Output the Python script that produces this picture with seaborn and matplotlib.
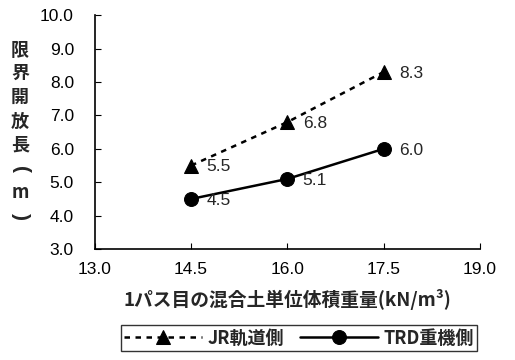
import matplotlib
matplotlib.use("Agg")
import matplotlib.pyplot as plt
import seaborn as sb
import pandas as pd

weights = [14.5, 16.0, 17.5]
jr_side = [5.5, 6.8, 8.3]
trd_side = [4.5, 5.1, 6.0]
series_names = ["JR軌道側", "TRD重機側"]
x_ticks = [13.0, 14.5, 16.0, 17.5, 19.0]
y_ticks = [3.0, 4.0, 5.0, 6.0, 7.0, 8.0, 9.0, 10.0]
y_title = "限界開放長(m)"

df = pd.DataFrame({
	"x": weights * 2,
	"y": jr_side + trd_side,
	"series": [series_names[0]] * 3 + [series_names[1]] * 3,
})

sb.set_style("ticks")
plt.rcParams["font.family"] = ["Liberation Sans", "Noto Sans CJK JP", "DejaVu Sans"]
jp = ["Noto Sans CJK JP", "DejaVu Sans"]

fig = plt.figure(figsize=(5.15, 3.6), dpi=100)
ax = fig.add_axes([0.184, 0.308, 0.748, 0.65])

sb.lineplot(data=df, x="x", y="y", style="series", markers={series_names[0]: "^", series_names[1]: "o"},
	dashes={series_names[0]: (2.2, 2.2), series_names[1]: ""}, color="black", markersize=10,
	markeredgecolor="black", linewidth=1.8, ax=ax, legend=True)

# value labels
for vals in [jr_side, trd_side]:
	for xv, yv in zip(weights, vals):
		ax.annotate(f"{yv:.1f}", (xv, yv), xytext=(11, -1), textcoords="offset points",
			ha="left", va="center", fontsize=12.5)

ax.set_xlim(13.0, 19.0)
ax.set_ylim(3.0, 10.0)
ax.set_xticks(x_ticks)
ax.set_yticks(y_ticks)
ax.set_xticklabels([f"{v:.1f}" for v in x_ticks], fontsize=12.5)
ax.set_yticklabels([f"{v:.1f}" for v in y_ticks], fontsize=12.5)
ax.tick_params(axis="y", direction="in", length=4, width=0.8, colors="black", pad=15)
ax.tick_params(axis="x", direction="in", length=4, width=0.8, colors="black", pad=9)
for s in ["top", "right"]:
	ax.spines[s].set_visible(False)
for s in ["left", "bottom"]:
	ax.spines[s].set_color("black")
	ax.spines[s].set_linewidth(1.2)

ax.set_xlabel("1パス目の混合土単位体積重量(kN/m³)", fontsize=13.5, labelpad=9, family=jp, fontweight="bold")
ax.set_ylabel("")

# vertical title, one character per line; brackets turned for vertical writing
for i, ch in enumerate(y_title):
	if ch in "()":
		fig.text(20 / 515, 1 - (50 + i * 23.8) / 360, ch, fontsize=15, ha="center", va="center",
			rotation=-90, family="Liberation Sans", fontweight="bold")
	else:
		fig.text(20 / 515, 1 - (50 + i * 23.8) / 360, ch, fontsize=13, ha="center", va="center",
			family=jp, fontweight="bold")

leg = ax.legend(loc="upper center", bbox_to_anchor=(0.53, -0.325), ncol=2, frameon=True,
	fancybox=False, edgecolor="black", handlelength=4.3, columnspacing=0.9,
	borderpad=0.2, handletextpad=0.3, title=None, borderaxespad=0,
	prop={"family": jp, "size": 13, "weight": "bold"})
leg.get_frame().set_linewidth(1.0)

fig.savefig("out.png", dpi=100)
